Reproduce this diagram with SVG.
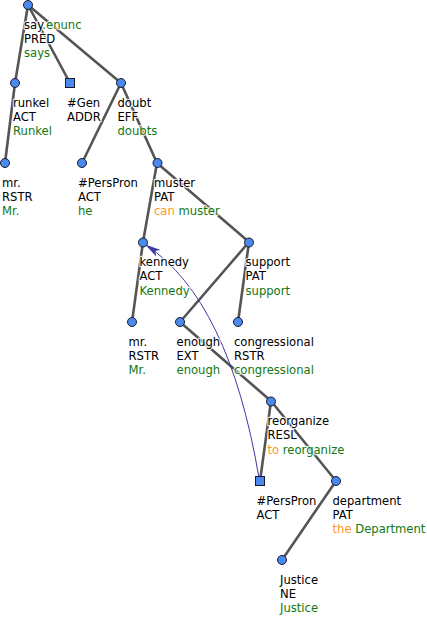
<svg xmlns="http://www.w3.org/2000/svg" width="427" height="617" viewBox="0 0 427 617">
<style>
text{font-family:"DejaVu Sans",Verdana,sans-serif;font-size:11.6px;fill:#000;stroke:#fff;stroke-width:2.5px;stroke-opacity:0.8;paint-order:stroke;stroke-linejoin:round}
.g{fill:#127812}
.o{fill:#ff9a1a}
.e{stroke:#555;stroke-width:2.6;fill:none;stroke-linecap:round}
.n{fill:#4a8af0;stroke:#1a1a2a;stroke-width:1}
.c{stroke:#3a3aa8;stroke-width:1;fill:none}
</style>
<defs>
<marker id="ah" viewBox="0 0 16 8" refX="15" refY="4" markerWidth="16" markerHeight="8" markerUnits="userSpaceOnUse" orient="auto">
<path d="M0,0 L16,4 L0,8 L4,4 Z" fill="#3a3aa8"/>
</marker>
</defs>
<g id="edges">
<line class="e" x1="28" y1="5" x2="15" y2="83"/>
<line class="e" x1="28" y1="5" x2="70" y2="83"/>
<line class="e" x1="28" y1="5" x2="121" y2="83"/>
<line class="e" x1="15" y1="83" x2="5" y2="163"/>
<line class="e" x1="121" y1="83" x2="82" y2="163"/>
<line class="e" x1="121" y1="83" x2="157" y2="163"/>
<line class="e" x1="157" y1="163" x2="143" y2="242"/>
<line class="e" x1="157" y1="163" x2="249" y2="242"/>
<line class="e" x1="143" y1="242" x2="132" y2="322"/>
<line class="e" x1="249" y1="242" x2="180" y2="322"/>
<line class="e" x1="249" y1="242" x2="238" y2="322"/>
<line class="e" x1="180" y1="322" x2="271" y2="401"/>
<line class="e" x1="271" y1="401" x2="260" y2="481"/>
<line class="e" x1="271" y1="401" x2="336" y2="481"/>
<line class="e" x1="336" y1="481" x2="282" y2="560"/>
<path class="c" d="M259,478 Q229,300 146,245" marker-end="url(#ah)"/>
</g>
<g id="n-say"><circle class="n" cx="28" cy="5" r="4.5"/><text x="24" y="28.5">say<tspan class="g">.enunc</tspan></text><text x="24" y="42.8">PRED</text><text x="24" y="57" class="g">says</text></g>
<g id="n-runkel"><circle class="n" cx="15" cy="83" r="4.5"/><text x="13" y="106.5">runkel</text><text x="13" y="120.8">ACT</text><text x="13" y="135" class="g">Runkel</text></g>
<g id="n-gen"><rect class="n" x="65.5" y="78.5" width="9" height="9"/><text x="67" y="106.5">#Gen</text><text x="67" y="120.8">ADDR</text></g>
<g id="n-doubt"><circle class="n" cx="121" cy="83" r="4.5"/><text x="117.5" y="106.5">doubt</text><text x="117.5" y="120.8">EFF</text><text x="117.5" y="135" class="g">doubts</text></g>
<g id="n-mr1"><circle class="n" cx="5" cy="163" r="4.5"/><text x="2" y="186.5">mr.</text><text x="2" y="200.8">RSTR</text><text x="2" y="215" class="g">Mr.</text></g>
<g id="n-perspron1"><circle class="n" cx="82" cy="163" r="4.5"/><text x="78" y="186.5">#PersPron</text><text x="78" y="200.8">ACT</text><text x="78" y="215" class="g">he</text></g>
<g id="n-muster"><circle class="n" cx="157.5" cy="163" r="4.5"/><text x="154" y="186.5">muster</text><text x="154" y="200.8">PAT</text><text x="154" y="215"><tspan class="o">can</tspan> <tspan class="g">muster</tspan></text></g>
<g id="n-kennedy"><circle class="n" cx="143" cy="242.5" r="4.5"/><text x="139.5" y="266">kennedy</text><text x="139.5" y="280.3">ACT</text><text x="139.5" y="294.5" class="g">Kennedy</text></g>
<g id="n-support"><circle class="n" cx="249" cy="242.5" r="4.5"/><text x="245.5" y="266">support</text><text x="245.5" y="280.3">PAT</text><text x="245.5" y="294.5" class="g">support</text></g>
<g id="n-mr2"><circle class="n" cx="132" cy="322" r="4.5"/><text x="128.5" y="345.5">mr.</text><text x="128.5" y="359.8">RSTR</text><text x="128.5" y="374" class="g">Mr.</text></g>
<g id="n-enough"><circle class="n" cx="180" cy="322" r="4.5"/><text x="176.5" y="345.5">enough</text><text x="176.5" y="359.8">EXT</text><text x="176.5" y="374" class="g">enough</text></g>
<g id="n-congressional"><circle class="n" cx="238" cy="322" r="4.5"/><text x="234" y="345.5">congressional</text><text x="234" y="359.8">RSTR</text><text x="234" y="374" class="g">congressional</text></g>
<g id="n-reorganize"><circle class="n" cx="271" cy="401.5" r="4.5"/><text x="267.5" y="425">reorganize</text><text x="267.5" y="439.3">RESL</text><text x="267.5" y="453.5"><tspan class="o">to</tspan> <tspan class="g">reorganize</tspan></text></g>
<g id="n-perspron2"><rect class="n" x="255.5" y="476.5" width="9" height="9"/><text x="256.5" y="504.5">#PersPron</text><text x="256.5" y="518.8">ACT</text></g>
<g id="n-department"><circle class="n" cx="336" cy="481" r="4.5"/><text x="332.5" y="504.5">department</text><text x="332.5" y="518.8">PAT</text><text x="332.5" y="533"><tspan class="o">the</tspan> <tspan class="g">Department</tspan></text></g>
<g id="n-justice"><circle class="n" cx="282" cy="560" r="4.5"/><text x="280" y="583.5">Justice</text><text x="280" y="597.8">NE</text><text x="280" y="612" class="g">Justice</text></g>
</svg>
